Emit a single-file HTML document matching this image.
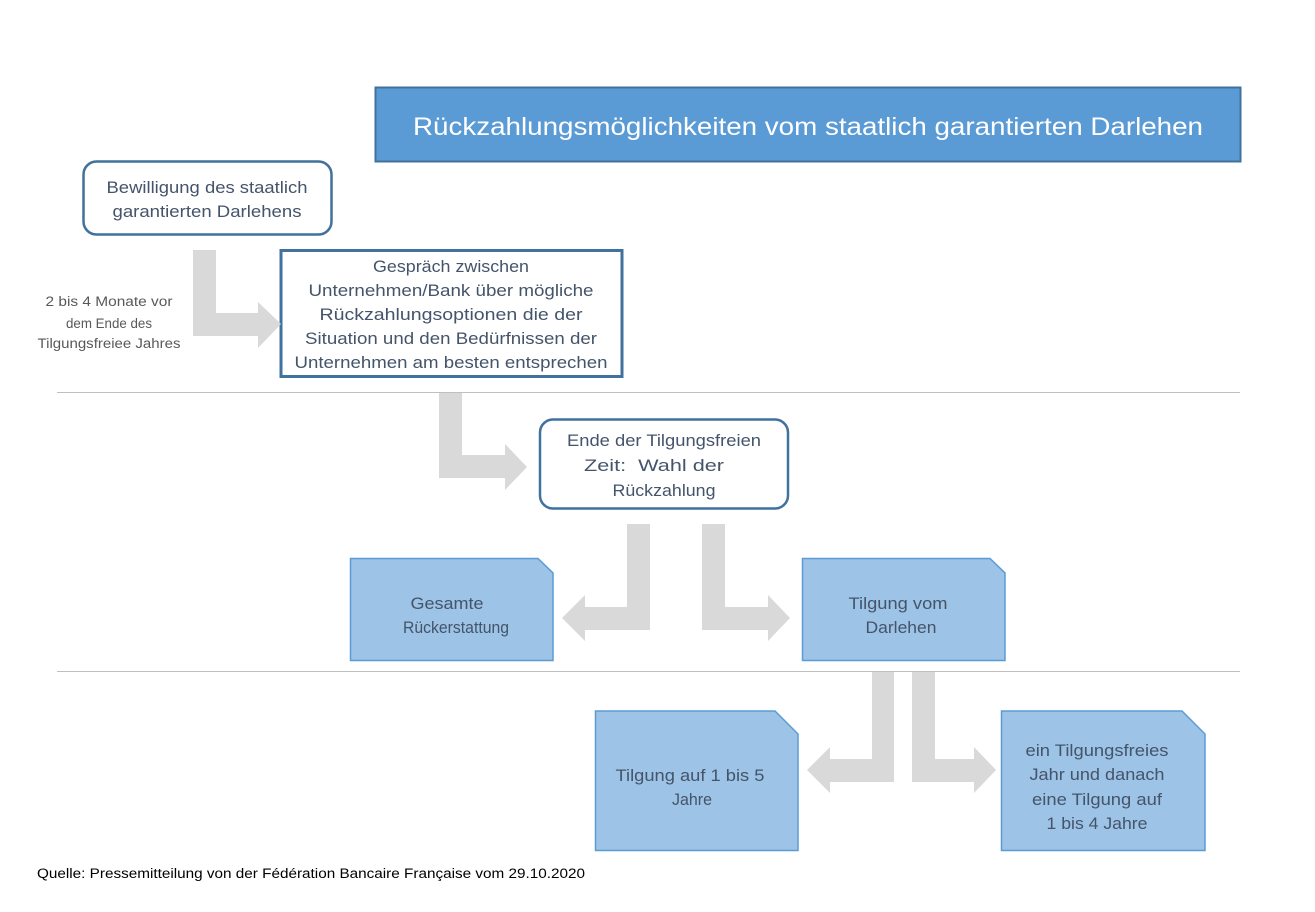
<!DOCTYPE html>
<html><head><meta charset="utf-8"><style>
html,body{margin:0;padding:0;background:#fff;}
svg{display:block;}
text{font-family:"Liberation Sans",sans-serif;}
</style></head><body>
<svg width="1315" height="912" viewBox="0 0 1315 912" xmlns="http://www.w3.org/2000/svg">
<rect width="1315" height="912" fill="#fff"/>
<!-- title -->
<rect x="375.5" y="87.5" width="865" height="74" fill="#5b9bd5" stroke="#41719c" stroke-width="2"/>
<text x="808" y="135" font-size="25" fill="#fff" text-anchor="middle" textLength="790" lengthAdjust="spacingAndGlyphs">Rückzahlungsmöglichkeiten vom staatlich garantierten Darlehen</text>

<g fill="#44546a" font-size="16.5" text-anchor="middle">
<!-- box1 -->
<rect x="83.5" y="161.5" width="248" height="73" rx="13" fill="#fff" stroke="#41719c" stroke-width="2.5"/>
<text x="207" y="193" textLength="201" lengthAdjust="spacingAndGlyphs">Bewilligung des staatlich</text>
<text x="207" y="217" textLength="189" lengthAdjust="spacingAndGlyphs">garantierten Darlehens</text>

<!-- box2 -->
<rect x="281" y="250.5" width="341" height="126" fill="#fff" stroke="#41719c" stroke-width="3"/>
<text x="451" y="272" textLength="156" lengthAdjust="spacingAndGlyphs">Gespräch zwischen</text>
<text x="451" y="296" textLength="285" lengthAdjust="spacingAndGlyphs">Unternehmen/Bank über mögliche</text>
<text x="451" y="320" textLength="263" lengthAdjust="spacingAndGlyphs">Rückzahlungsoptionen die der</text>
<text x="451" y="344" textLength="292" lengthAdjust="spacingAndGlyphs">Situation und den Bedürfnissen der</text>
<text x="451" y="368" textLength="313" lengthAdjust="spacingAndGlyphs">Unternehmen am besten entsprechen</text>

<!-- box3 -->
<rect x="540" y="419.5" width="248" height="89" rx="13" fill="#fff" stroke="#41719c" stroke-width="2.5"/>
<text x="664" y="446" textLength="194" lengthAdjust="spacingAndGlyphs">Ende der Tilgungsfreien</text>
<text x="654" y="471" textLength="140" lengthAdjust="spacingAndGlyphs" xml:space="preserve">Zeit:  Wahl der</text>
<text x="664" y="496" textLength="103" lengthAdjust="spacingAndGlyphs">Rückzahlung</text>
</g>

<!-- left label -->
<g fill="#595959" font-size="13.5" text-anchor="middle">
<text x="109" y="306" textLength="127" lengthAdjust="spacingAndGlyphs">2 bis 4 Monate vor</text>
<text x="109" y="328" textLength="86" lengthAdjust="spacingAndGlyphs">dem Ende des</text>
<text x="109" y="348" textLength="143" lengthAdjust="spacingAndGlyphs">Tilgungsfreiee Jahres</text>
</g>

<!-- separators -->
<line x1="57" y1="392.5" x2="1240" y2="392.5" stroke="#bfbfbf" stroke-width="1"/>
<line x1="57" y1="671.5" x2="1240" y2="671.5" stroke="#bfbfbf" stroke-width="1"/>

<!-- gray arrows -->
<g fill="#d9d9d9">
<polygon points="193,250 216,250 216,313 258,313 258,302 281,324 258,348 258,336 193,336"/>
<polygon points="439,393 462,393 462,455 505,455 505,444 527,467 505,490 505,478 439,478"/>
<polygon points="650,524 627,524 627,607 585,607 585,595 562,618 585,641 585,630 650,630"/>
<polygon points="702,524 725,524 725,607 768,607 768,595 790,618 768,641 768,630 702,630"/>
<polygon points="894,672 872,672 872,759 830,759 830,747 807,770 830,793 830,782 894,782"/>
<polygon points="912,672 935,672 935,759 974,759 974,747 996,770 974,793 974,782 912,782"/>
</g>

<!-- blue snipped boxes -->
<g fill="#9dc3e6" stroke="#5b9bd5" stroke-width="1.5">
<polygon points="350.5,558.5 538,558.5 553,573 553,660.5 350.5,660.5"/>
<polygon points="802.5,558.5 990,558.5 1005,573 1005,660.5 802.5,660.5"/>
<polygon points="595.5,711 775,711 798,734 798,850.5 595.5,850.5"/>
<polygon points="1001.5,711 1182,711 1205,734 1205,850.5 1001.5,850.5"/>
</g>
<g fill="#44546a" font-size="16.5" text-anchor="middle">
<text x="447" y="609" textLength="73" lengthAdjust="spacingAndGlyphs">Gesamte</text>
<text x="456" y="633" textLength="106" lengthAdjust="spacingAndGlyphs">Rückerstattung</text>
<text x="898" y="609" textLength="99" lengthAdjust="spacingAndGlyphs">Tilgung vom</text>
<text x="901" y="633" textLength="71" lengthAdjust="spacingAndGlyphs">Darlehen</text>
<text x="690" y="781" textLength="149" lengthAdjust="spacingAndGlyphs">Tilgung auf 1 bis 5</text>
<text x="692" y="805" textLength="40" lengthAdjust="spacingAndGlyphs">Jahre</text>
<text x="1097" y="756" textLength="143" lengthAdjust="spacingAndGlyphs">ein Tilgungsfreies</text>
<text x="1097" y="780" textLength="135" lengthAdjust="spacingAndGlyphs">Jahr und danach</text>
<text x="1097" y="805" textLength="130" lengthAdjust="spacingAndGlyphs">eine Tilgung auf</text>
<text x="1097" y="829" textLength="101" lengthAdjust="spacingAndGlyphs">1 bis 4 Jahre</text>
</g>

<text x="37" y="878" font-size="13.5" fill="#000" textLength="548" lengthAdjust="spacingAndGlyphs">Quelle: Pressemitteilung von der Fédération Bancaire Française vom 29.10.2020</text>
</svg>
</body></html>
